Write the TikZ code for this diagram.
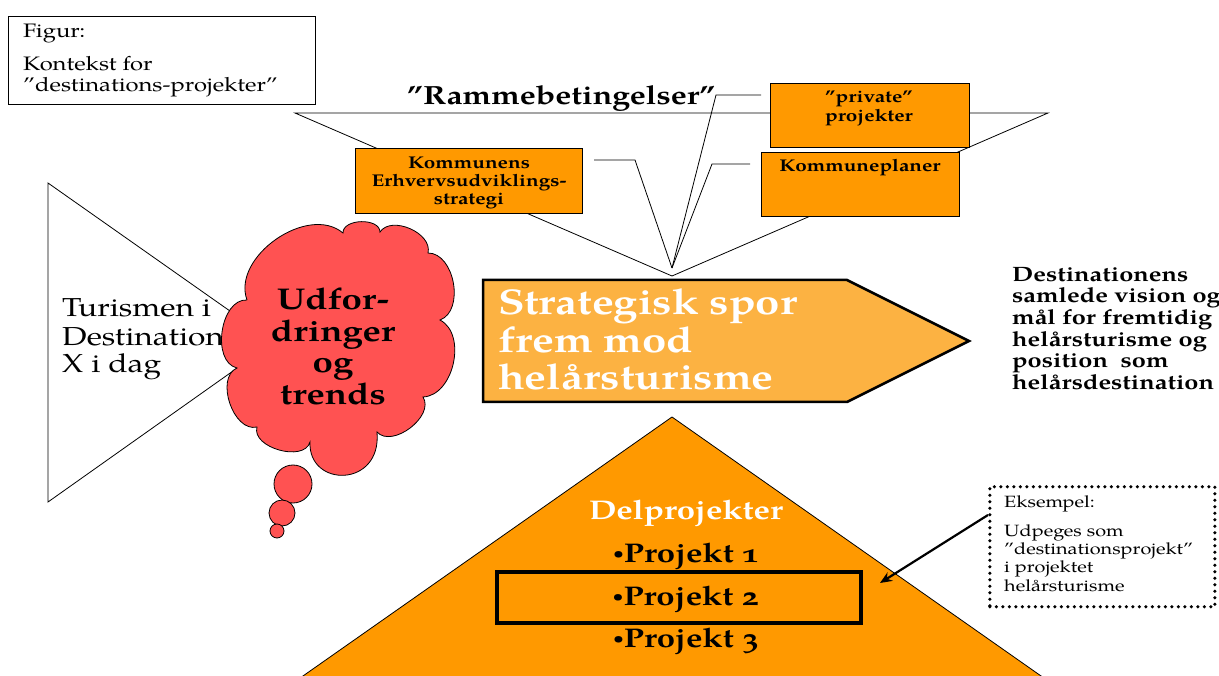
\documentclass[tikz,border=0pt]{standalone}
\usepackage{fontspec}
\usepackage{graphicx}
\setmainfont{TeX Gyre Pagella}[FakeStretch=1.22, Numbers=OldStyle]
\usetikzlibrary{arrows.meta}
\definecolor{orng}{RGB}{255,153,0}
\definecolor{arroworng}{RGB}{252,178,66}
\definecolor{cloudred}{RGB}{255,82,82}
\newcommand{\smallbullet}{\raisebox{0.12em}{\scalebox{0.55}{•}}}
\tikzset{
  thinline/.style={draw=black, line width=0.8pt},
  obox/.style={draw=black, line width=0.8pt, fill=orng, anchor=north west, inner sep=0pt},
  txt/.style={inner sep=0pt, anchor=base west},
  ctxt/.style={inner sep=0pt, anchor=base},
  boxfont/.style={font=\bfseries\fontsize{17}{19}\selectfont},
  bubble/.style={circle, draw=black, line width=0.8pt, fill=cloudred, inner sep=0pt},
}
\begin{document}
\begin{tikzpicture}[x=1pt,y=-1pt]
\useasboundingbox (0,0) rectangle (1219,676);
\fill[white] (0,0) rectangle (1219,676);

% figure caption box
\node[draw, line width=0.8pt, anchor=north west, inner sep=0pt, minimum width=307, minimum height=88] (figbox) at (8,16) {};
\node[txt, font=\fontsize{19.5}{22}\selectfont] (figA) at (23,38) {Figur:};
\node[txt, font=\fontsize{19.5}{22}\selectfont] (figB) at (23,71) {Kontekst for};
\node[txt, font=\fontsize{19.5}{22}\selectfont] (figC) at (23,92) {”destinations-projekter”};

% funnel of framework conditions
\coordinate (fL) at (295,113);
\coordinate (fR) at (1048,113);
\coordinate (fA) at (672,276);
\draw[thinline] (fL) -- (fR) -- (fA) -- cycle;
\node[txt, font=\bfseries\fontsize{26.3}{30}\selectfont] (ramme) at (407,105) {”Rammebetingelser”};

% callout lines
\coordinate (cA) at (672,268);
\coordinate (c1s) at (761,95);  \coordinate (c1k) at (716,95);
\coordinate (c2s) at (594,160); \coordinate (c2k) at (635,160);
\coordinate (c3s) at (750,164); \coordinate (c3k) at (712,164);
\draw[thinline] (c1s) -- (c1k) -- (cA);
\draw[thinline] (c2s) -- (c2k) -- (cA);
\draw[thinline] (c3s) -- (c3k) -- (cA);

% orange boxes
\node[obox, minimum width=227, minimum height=65] (kom) at (355,148) {};
\node[ctxt, boxfont] (kom1) at (469,169) {Kommunens};
\node[ctxt, boxfont] (kom2) at (469,187) {Erhvervsudviklings-};
\node[ctxt, boxfont] (kom3) at (469,205) {strategi};

\node[obox, minimum width=199, minimum height=64] (priv) at (770,83) {};
\node[ctxt, boxfont] (priv1) at (869,103) {”private”};
\node[ctxt, boxfont] (priv2) at (869,122) {projekter};

\node[obox, minimum width=198, minimum height=64] (kplan) at (761,152) {};
\node[ctxt, boxfont] (kplan1) at (860,172) {Kommuneplaner};

% left triangle
\coordinate (tT) at (48,183);
\coordinate (tA) at (274,342);
\coordinate (tB) at (48,502);
\draw[thinline, fill=white] (tT) -- (tA) -- (tB) -- cycle;
\node[txt, font=\fontsize{26}{29}\selectfont] (tur1) at (62,317) {Turismen i};
\node[txt, font=\fontsize{26}{29}\selectfont] (tur2) at (62,346) {Destination};
\node[txt, font=\fontsize{26}{29}\selectfont] (tur3) at (62,373) {X i dag};

% thought cloud
\draw[thinline, fill=cloudred]
  (247,300) to[bend left=75] (343,233) to[bend left=90] (380,232) to[bend left=80] (428,253)
  to[bend left=80] (440,320) to[bend left=75] (423,397) to[bend left=85] (377,432)
  .. controls (382,488) and (308,488) .. (310,442) to[bend left=90] (257,427) to[bend left=85] (237,368)
  to[bend left=85] (247,300);
\node[bubble, minimum size=38] (b1) at (293,484) {};
\node[bubble, minimum size=26] (b2) at (282,513) {};
\node[bubble, minimum size=14] (b3) at (277,531) {};
\node[ctxt, font=\bfseries\fontsize{30}{32}\selectfont] (cl1) at (333,310) {Udfor-};
\node[ctxt, font=\bfseries\fontsize{30}{32}\selectfont] (cl2) at (333,342) {dringer};
\node[ctxt, font=\bfseries\fontsize{30}{32}\selectfont] (cl3) at (333,373) {og};
\node[ctxt, font=\bfseries\fontsize{30}{32}\selectfont] (cl4) at (333,405) {trends};

% strategic track arrow
\draw[line width=2.5pt, fill=arroworng, line join=miter]
  (483,280) -- (847,280) -- (969,341) -- (847,402) -- (483,402) -- cycle;
\node[txt, text=white, font=\bfseries\fontsize{35.8}{38}\selectfont] (st1) at (498,315) {Strategisk spor};
\node[txt, text=white, font=\bfseries\fontsize{35.8}{38}\selectfont] (st2) at (498,353) {frem mod};
\node[txt, text=white, font=\bfseries\fontsize{35.8}{38}\selectfont] (st3) at (498,390) {helårsturisme};

% vision text
\node[txt, font=\bfseries\fontsize{20.8}{22}\selectfont] (v1) at (1012,282) {Destinationens};
\node[txt, font=\bfseries\fontsize{20.8}{22}\selectfont] (v2) at (1012,303) {samlede vision og};
\node[txt, font=\bfseries\fontsize{20.8}{22}\selectfont] (v3) at (1012,325) {mål for fremtidig};
\node[txt, font=\bfseries\fontsize{20.8}{22}\selectfont] (v4) at (1012,347) {helårsturisme og};
\node[txt, font=\bfseries\fontsize{20.8}{22}\selectfont] (v5) at (1012,368) {position\ \ som};
\node[txt, font=\bfseries\fontsize{20.8}{22}\selectfont] (v6) at (1012,390) {helårsdestination};

% pyramid of sub-projects
\coordinate (pA) at (672,417);
\coordinate (pL) at (283,690);
\coordinate (pR) at (1061,690);
\draw[thinline, fill=orng] (pA) -- (pR) -- (pL) -- cycle;
\node[ctxt, text=white, font=\bfseries\fontsize{27}{30}\selectfont] (del) at (686,519) {Delprojekter};
\node[draw=black, line width=4pt, anchor=north west, inner sep=0pt, minimum width=364, minimum height=51] (hl) at (495,570) {};
\node[ctxt, font=\bfseries\fontsize{27}{30}\selectfont] (p1) at (686,562) {\smallbullet Projekt 1};
\node[ctxt, font=\bfseries\fontsize{27}{30}\selectfont] (p2) at (686,605) {\smallbullet Projekt 2};
\node[ctxt, font=\bfseries\fontsize{27}{30}\selectfont] (p3) at (686,647) {\smallbullet Projekt 3};

% example box
\node[draw=black, line width=3.5pt, dash pattern=on 0pt off 6.5pt, line cap=round, anchor=north west,
      inner sep=0pt, minimum width=225, minimum height=120] (exbox) at (988,485) {};
\node[txt, font=\fontsize{16.3}{19}\selectfont] (e1) at (1004,507) {Eksempel:};
\node[txt, font=\fontsize{16.3}{19}\selectfont] (e2) at (1004,536) {Udpeges som};
\node[txt, font=\fontsize{16.3}{19}\selectfont] (e3) at (1004,554) {”destinationsprojekt”};
\node[txt, font=\fontsize{16.3}{19}\selectfont] (e4) at (1004,572) {i projektet};
\node[txt, font=\fontsize{16.3}{19}\selectfont] (e5) at (1004,591) {helårsturisme};
\coordinate (exS) at (988,515);
\coordinate (exT) at (880,583);
\draw[line width=2.2pt, -{Stealth[length=12pt,width=10pt]}] (exS) -- (exT);
\end{tikzpicture}
\end{document}
